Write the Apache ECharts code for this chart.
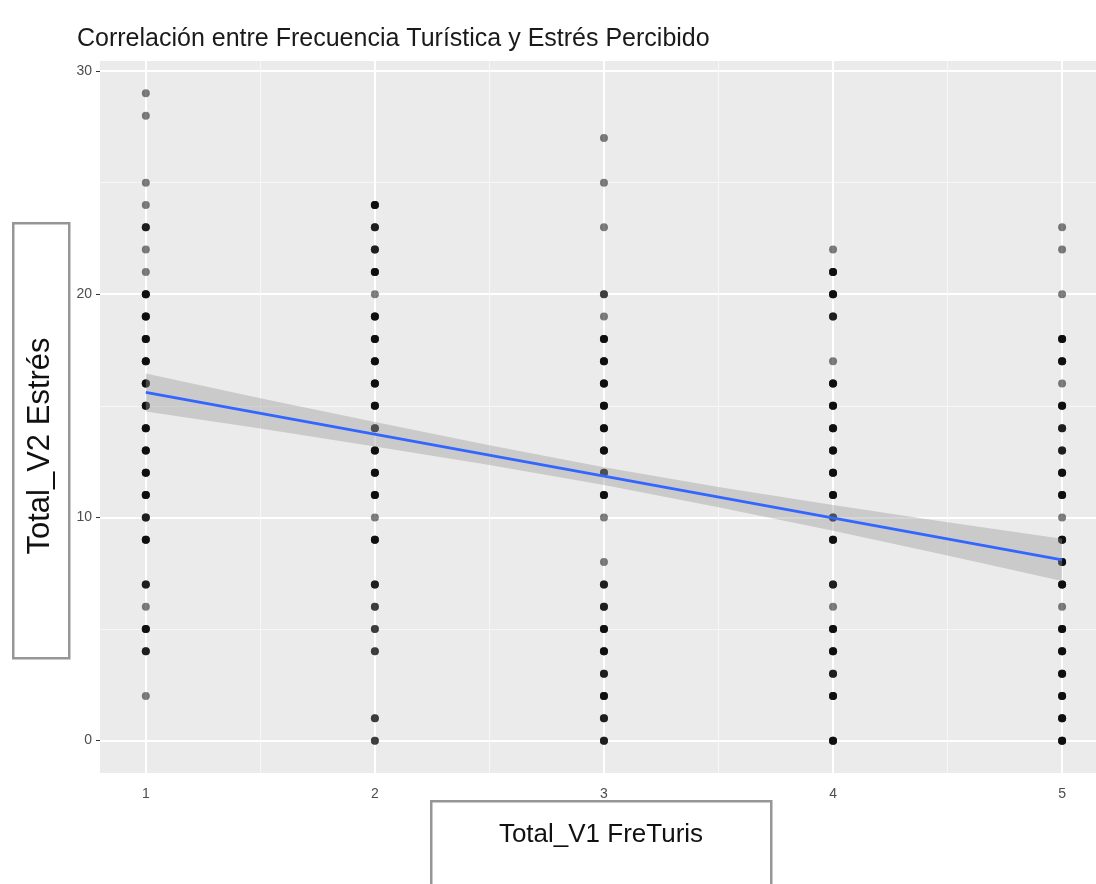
<!DOCTYPE html>
<html>
<head>
<meta charset="utf-8">
<script src="https://cdn.jsdelivr.net/npm/echarts@6/dist/echarts.min.js"></script>
<style>
html,body{margin:0;padding:0;background:#fff;}
#chart{width:1096px;height:884px;}
</style>
</head>
<body>
<div id="chart"></div>
<script>
// ---- data ----
const chartTitle = 'Correlación entre Frecuencia Turística y Estrés Percibido';
const xTitle = 'Total_V1 FreTuris';
const yTitle = 'Total_V2 Estrés';
const xTicks = [1, 2, 3, 4, 5];
const yTicks = [0, 10, 20, 30];
const yMinorLines = [5, 15, 25];
const xMinorLines = [1.5, 2.5, 3.5, 4.5];

// stress values observed at each tourist-frequency level, and how many
// respondents overlap on each (darkness of the dot)
const valsX1 = [29,28,25,24,23,22,21,20,19,18,17,16,15,14,13,12,11,10,9,7,6,5,4,2];
const cntX1  = [1, 1, 1, 1, 3, 1, 1, 4, 4, 4, 4, 4, 4, 4, 4, 4, 4, 3,4,3,1,4,3,1];
const valsX2 = [24,23,22,21,20,19,18,17,16,15,14,13,12,11,10,9,7,6,5,4,1,0];
const cntX2  = [4, 3, 3, 4, 1, 4, 4, 4, 4, 4, 3, 4, 4, 4, 1, 4,3,2,2,2,2,2];
const valsX3 = [27,25,23,20,19,18,17,16,15,14,13,12,11,10,8,7,6,5,4,3,2,1,0];
const cntX3  = [1, 1, 1, 2, 1, 4, 4, 4, 4, 4, 4, 3, 4, 1, 1,3,3,4,4,3,4,3,3];
const valsX4 = [22,21,20,19,17,16,15,14,13,12,11,10,9,7,6,5,4,3,2,0];
const cntX4  = [1, 4, 4, 3, 1, 4, 4, 4, 4, 4, 4, 3, 4,3,1,4,4,3,4,4];
const valsX5 = [23,22,20,18,17,16,15,14,13,12,11,10,9,8,7,6,5,4,3,2,1,0];
const cntX5  = [1, 1, 1, 4, 4, 1, 4, 3, 3, 4, 4, 1, 4,4,4,1,4,4,4,4,4,4];

// linear fit and its confidence band
const fitX = [1, 5];
const fitY = [15.6, 8.1];
const bandX     = [1, 1.5, 2, 2.5, 3, 3.5, 4, 4.5, 5];
const bandLower = [14.75, 13.98, 13.18, 12.35, 11.45, 10.46, 9.40, 8.29, 7.15];
const bandUpper = [16.45, 15.34, 14.28, 13.23, 12.25, 11.36, 10.56, 9.79, 9.05];

// ---- build ----
const groups = [[1,valsX1,cntX1],[2,valsX2,cntX2],[3,valsX3,cntX3],[4,valsX4,cntX4],[5,valsX5,cntX5]];
const points = [];
groups.forEach(([x, vals, cnts]) => {
  vals.forEach((v, i) => { for (let k = 0; k < cnts[i]; k++) points.push([x, v]); });
});
const bandData = bandX.map((x, i) => [x, bandLower[i], bandUpper[i]]);
const fitData = fitX.map((x, i) => [x, fitY[i]]);

const sans = '"Liberation Sans", Arial, sans-serif';

const gridLines = [];
yTicks.forEach(v => gridLines.push({yAxis: v, lineStyle: {color: '#ffffff', width: 2, type: 'solid'}}));
yMinorLines.forEach(v => gridLines.push({yAxis: v, lineStyle: {color: '#f7f7f7', width: 1, type: 'solid'}}));
xTicks.forEach(v => gridLines.push({xAxis: v, lineStyle: {color: '#ffffff', width: 2, type: 'solid'}}));
xMinorLines.forEach(v => gridLines.push({xAxis: v, lineStyle: {color: '#f7f7f7', width: 1, type: 'solid'}}));

const chart = echarts.init(document.getElementById('chart'), null, {renderer: 'canvas'});
chart.setOption({
  animation: false,
  backgroundColor: '#ffffff',
  title: {
    text: chartTitle, left: 72, top: 22,
    textStyle: {fontFamily: sans, fontSize: 25, fontWeight: 'normal', color: '#1a1a1a'}
  },
  grid: {left: 100, right: 0, top: 61, bottom: 111, show: true, backgroundColor: '#EBEBEB', borderWidth: 0},
  xAxis: {
    type: 'value', min: 0.8, max: 5.148,
    axisLine: {show: false},
    splitLine: {show: false},
    axisTick: {show: true, length: 4, customValues: xTicks, lineStyle: {color: '#333', width: 1}},
    axisLabel: {customValues: xTicks, margin: 14, fontFamily: sans, fontSize: 14, color: '#4d4d4d'}
  },
  yAxis: {
    type: 'value', min: -1.45, max: 30.45,
    axisLine: {show: false},
    splitLine: {show: false},
    axisTick: {show: true, length: 4, customValues: yTicks, lineStyle: {color: '#333', width: 1}},
    axisLabel: {customValues: yTicks, margin: 8, fontFamily: sans, fontSize: 14, color: '#4d4d4d'}
  },
  graphic: [
    {type: 'rect', left: 12, top: 222, shape: {width: 56, height: 435},
     style: {fill: '#fff', stroke: '#969696', lineWidth: 2.5}},
    {type: 'text', x: 40, y: 446, rotation: Math.PI / 2,
     style: {text: yTitle, font: '31px "Liberation Sans", sans-serif', fill: '#111', align: 'center', verticalAlign: 'middle'}},
    {type: 'rect', left: 430, top: 800, shape: {width: 340, height: 100},
     style: {fill: '#fff', stroke: '#969696', lineWidth: 2.5}},
    {type: 'text', x: 601, y: 835,
     style: {text: xTitle, font: '26px "Liberation Sans", sans-serif', fill: '#111', align: 'center', verticalAlign: 'middle'}}
  ],
  series: [
    {
      type: 'line', z: 1, data: [], symbol: 'none', silent: true,
      markLine: {z: 1, silent: true, symbol: 'none', label: {show: false}, animation: false, data: gridLines}
    },
    {
      type: 'scatter', z: 3, data: points, symbol: 'circle', symbolSize: 8,
      itemStyle: {color: '#000', opacity: 0.5}
    },
    {
      type: 'custom', z: 4, data: bandData, silent: true,
      renderItem: function (params, api) {
        if (params.dataIndex !== 0) return null;
        const pts = [];
        bandData.forEach(d => pts.push(api.coord([d[0], d[2]])));
        for (let i = bandData.length - 1; i >= 0; i--) pts.push(api.coord([bandData[i][0], bandData[i][1]]));
        return {type: 'polygon', shape: {points: pts}, style: {fill: 'rgba(153,153,153,0.4)', stroke: null}};
      },
      encode: {x: 0, y: [1, 2]}
    },
    {
      type: 'line', z: 5, data: fitData, symbol: 'none', silent: true,
      lineStyle: {color: '#3366FF', width: 2.8}
    }
  ]
});
</script>
</body>
</html>
